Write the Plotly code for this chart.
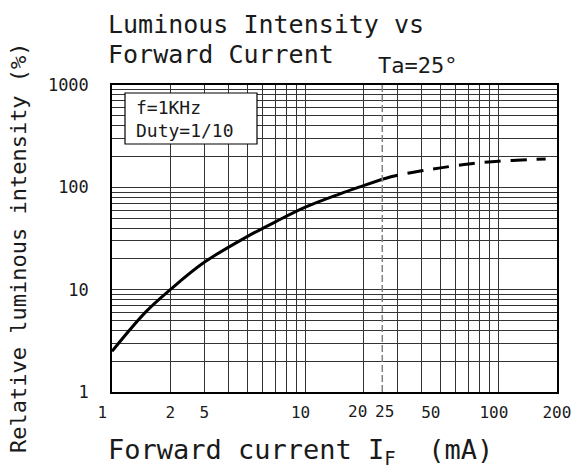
import math
import plotly.graph_objects as go

# ---- data ----
current_solid = [1, 1.5, 2, 3, 5, 7, 10, 15, 20, 25]
intensity_solid = [2.5, 6.1, 10.0, 18.5, 33, 46, 64, 86, 104, 120]
current_dashed = [25, 30, 40, 50, 70, 100, 150, 175]
intensity_dashed = [120, 131, 145, 155, 169, 180, 187, 189]
rated_current = 25

NB = "\u00a0"
x_tick_vals = [1, 2, 3, 10, 50, 100, 200]
x_tick_text = ["1" + NB * 2, "2", "5", "10" + NB, "50" + NB * 2, "100" + NB, "200"]
x_close_ticks = [20, 25]          # labelled separately so they do not collide
x_close_text = ["20", "25"]
x_grid_vals = [2, 3, 4, 5, 6, 7, 8, 9, 10, 20, 30, 40, 50, 60, 70, 80, 90, 100]
y_tick_vals = [1, 10, 100, 1000]
y_tick_text = ["1", "10", "100", "1000"]
y_grid_vals = [m * d for d in (1, 10, 100) for m in range(2, 10)]

FONT = "DejaVu Sans Mono"
INK = "#1a1a1a"
GRID = "#333333"

fig = go.Figure()
fig.add_trace(go.Scatter(x=current_solid, y=intensity_solid, mode="lines",
                         line=dict(color="black", width=3, shape="spline"),
                         showlegend=False, hoverinfo="skip"))
fig.add_trace(go.Scatter(x=current_dashed, y=intensity_dashed, mode="lines",
                         line=dict(color="black", width=3, shape="spline", dash="16px,10px"),
                         showlegend=False, hoverinfo="skip"))

fig.add_vline(x=rated_current, line=dict(color="#808080", width=1.5, dash="7px,3px"))

W, H = 584, 474
L, R, T, B = 112, 27, 85, 82
pw, ph = W - L - R, H - T - B


def px(xp):
    return (xp - L) / pw


def py(yp):
    return (H - B - yp) / ph


fig.update_layout(
    width=W, height=H,
    margin=dict(l=L, r=R, t=T, b=B),
    paper_bgcolor="white", plot_bgcolor="white",
    font=dict(family=FONT, color=INK),
    xaxis=dict(
        type="log", range=[0, 2.3016],
        tickmode="array", tickvals=x_tick_vals, ticktext=x_tick_text,
        tickfont=dict(size=16, family=FONT, color=INK), tickangle=0,
        showgrid=False, ticks="", ticklabelstandoff=5,
        showline=True, linecolor="black", linewidth=1.5, mirror=True,
        zeroline=False,
        minor=dict(tickmode="array", tickvals=x_grid_vals, showgrid=True,
                   gridcolor=GRID, gridwidth=1, ticks=""),
    ),
    yaxis=dict(
        type="log", range=[0, 3],
        tickmode="array", tickvals=y_tick_vals, ticktext=y_tick_text,
        tickfont=dict(size=17, family=FONT, color=INK),
        showgrid=True, gridcolor=GRID, gridwidth=1, ticks="",
        ticklabelstandoff=18,
        showline=True, linecolor="black", linewidth=1.5, mirror=True,
        zeroline=False,
        minor=dict(tickmode="array", tickvals=y_grid_vals, showgrid=True,
                   gridcolor=GRID, gridwidth=1, ticks=""),
    ),
)

# the two crowded x labels (20, 25); annotation x on a log axis is given in log10 units
for val, txt, shift in zip(x_close_ticks, x_close_text, [-6, 2]):
    fig.add_annotation(text=txt, x=math.log10(val), xref="x", y=py(411), yref="paper",
                       xshift=shift, xanchor="center", yanchor="middle",
                       showarrow=False, font=dict(size=16, family=FONT, color=INK))

# legend-like box
fig.add_shape(type="rect", xref="paper", yref="paper",
              x0=px(125), x1=px(257), y0=py(144), y1=py(93),
              fillcolor="white", line=dict(color="black", width=1.2), layer="above")
fig.add_annotation(text="f=1KHz<br>Duty=1/10", xref="paper", yref="paper",
                   x=px(134), y=py(119), xanchor="left", yanchor="middle",
                   align="left", showarrow=False,
                   font=dict(size=18, family=FONT, color=INK))

# titles
fig.add_annotation(text="Luminous Intensity vs", xref="paper", yref="paper",
                   x=px(106), y=py(25), xanchor="left", yanchor="middle",
                   showarrow=False, font=dict(size=25, family=FONT, color=INK))
fig.add_annotation(text="Forward Current", xref="paper", yref="paper",
                   x=px(106), y=py(55), xanchor="left", yanchor="middle",
                   showarrow=False, font=dict(size=25, family=FONT, color=INK))
fig.add_annotation(text="Ta=25°", xref="paper", yref="paper",
                   x=px(376), y=py(65), xanchor="left", yanchor="middle",
                   showarrow=False, font=dict(size=22, family=FONT, color=INK))
fig.add_annotation(text="Forward current I<sub>F</sub>" + NB * 2 + "(mA)", xref="paper", yref="paper",
                   x=px(106), y=py(451), xanchor="left", yanchor="middle",
                   showarrow=False, font=dict(size=27, family=FONT, color=INK))
fig.add_annotation(text="Relative luminous intensity (%)", xref="paper", yref="paper",
                   x=px(18), y=py(248), xanchor="center", yanchor="middle",
                   textangle=-90, showarrow=False,
                   font=dict(size=22, family=FONT, color=INK))

fig.write_html("out.html")
